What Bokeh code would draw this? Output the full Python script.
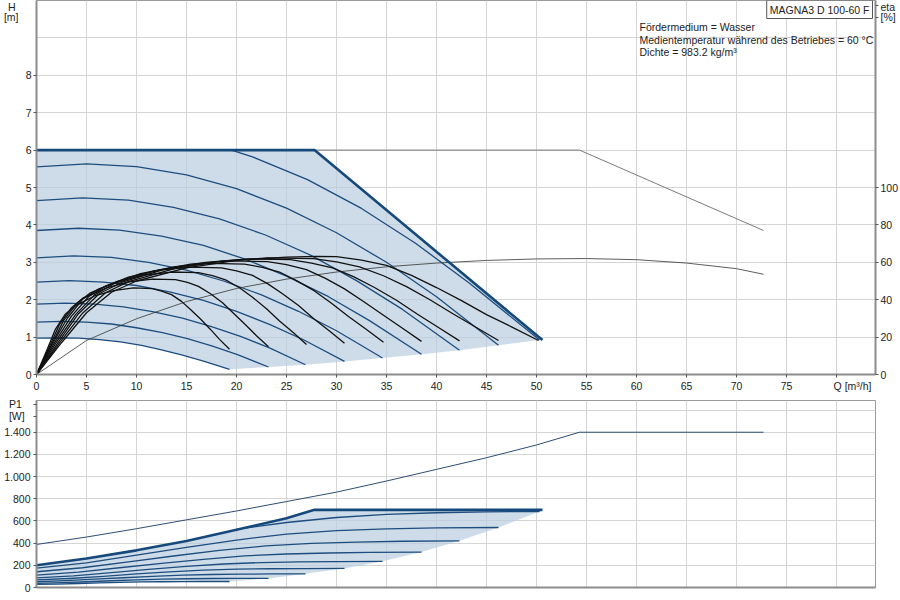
from bokeh.plotting import figure
from bokeh.models import Range1d, LinearAxis, FixedTicker, Label
from bokeh.layouts import column
from bokeh.embed import file_html
from bokeh.resources import INLINE

# ─── data ───────────────────────────────────────────────────────────────────
Q_TICKS   = [0, 5, 10, 15, 20, 25, 30, 35, 40, 45, 50, 55, 60, 65, 70, 75, 80]
H_TICKS   = [0, 1, 2, 3, 4, 5, 6, 7, 8]
H_GRID    = [0, 1, 2, 3, 4, 5, 6, 7, 8, 9]
ETA_TICKS = [0, 20, 40, 60, 80, 100]
P_TICKS   = [0, 200, 400, 600, 800, 1000, 1200, 1400]
P_GRID    = [0, 200, 400, 600, 800, 1000, 1200, 1400, 1600]
P_LABELS  = {1000: "1.000", 1200: "1.200", 1400: "1.400"}

# constant-speed curves, slowest first; Q list shared by H and P1
speed_q = [
    [0, 2.1, 4.2, 6.3, 8.4, 10.5, 12.5, 14.6, 16.7, 19.3],
    [0, 2.5, 5.0, 7.5, 10.0, 12.6, 15.1, 17.6, 20.1, 23.2],
    [0, 2.9, 5.8, 8.7, 11.6, 14.6, 17.5, 20.4, 23.3, 26.9],
    [0, 3.3, 6.7, 10.0, 13.3, 16.7, 20.0, 23.3, 26.7, 30.8],
    [0, 3.7, 7.5, 11.2, 15.0, 18.7, 22.5, 26.2, 30.0, 34.6],
    [0, 4.2, 8.3, 12.5, 16.7, 20.8, 25.0, 29.2, 33.3, 38.5],
    [0, 4.6, 9.2, 13.7, 18.3, 22.9, 27.5, 32.0, 36.6, 42.3],
    [0, 5.0, 10.0, 15.0, 20.0, 25.0, 30.0, 35.0, 40.0, 46.2],
]
speed_h = [
    [0.97, 0.98, 0.97, 0.93, 0.87, 0.78, 0.66, 0.52, 0.36, 0.14],
    [1.40, 1.42, 1.40, 1.35, 1.25, 1.12, 0.96, 0.76, 0.53, 0.20],
    [1.88, 1.91, 1.88, 1.81, 1.68, 1.51, 1.28, 1.02, 0.71, 0.26],
    [2.47, 2.51, 2.47, 2.38, 2.21, 1.98, 1.69, 1.34, 0.93, 0.35],
    [3.12, 3.17, 3.13, 3.00, 2.79, 2.50, 2.13, 1.69, 1.17, 0.44],
    [3.85, 3.91, 3.86, 3.70, 3.45, 3.09, 2.63, 2.08, 1.44, 0.54],
    [4.65, 4.72, 4.66, 4.47, 4.16, 3.73, 3.18, 2.51, 1.74, 0.65],
    [5.55, 5.63, 5.56, 5.34, 4.97, 4.45, 3.79, 3.00, 2.08, 0.78],
]
speed_p = [
    [28, 31, 36, 41, 46, 50, 52, 53, 54, 54],
    [38, 44, 52, 61, 69, 75, 79, 81, 82, 82],
    [52, 62, 75, 88, 101, 111, 117, 120, 122, 123],
    [68, 81, 101, 122, 140, 156, 165, 169, 171, 172],
    [86, 105, 134, 163, 190, 212, 225, 231, 234, 236],
    [111, 138, 178, 217, 254, 285, 302, 311, 316, 319],
    [142, 178, 231, 284, 334, 375, 398, 410, 417, 421],
    [174, 222, 292, 362, 428, 482, 512, 528, 537, 541],
]

# 100 % speed curve (clipped by the 6 m limit)
top_q   = [19.5, 21.6, 27.1, 32.5, 37.9, 43.3, 50.3]
top_h   = [6.0, 5.82, 5.21, 4.44, 3.51, 2.44, 0.92]
top_p_q = [20, 25, 30, 35, 40, 45, 50.3]
top_p   = [525, 586, 631, 660, 674, 682, 685]

# max limit curves (thick)
max_h_q = [0, 27.8, 50.6]
max_h   = [6.0, 6.0, 0.92]
max_p_q = [0, 5, 10, 15, 20, 25, 27.8, 50.6]
max_p   = [200, 262, 335, 420, 520, 625, 700, 700]

# thin extension curves
ext_h_q   = [27.8, 54.3, 72.7]
ext_h     = [6.0, 6.0, 3.85]
ext_eta_q = [0, 5, 10, 15, 20, 25, 30, 35, 40, 45, 50, 55, 60, 65, 70, 72.7]
ext_eta   = [0, 18.2, 29.8, 39.0, 46.0, 51.0, 54.8, 57.6, 59.6, 61.0, 61.8, 62.0, 61.4, 59.6, 56.6, 53.6]
ext_p_q   = [0, 5, 10, 15, 20, 25, 30, 35, 40, 45, 50, 54.3, 72.7]
ext_p     = [388, 455, 530, 610, 690, 775, 860, 960, 1065, 1170, 1285, 1400, 1400]

# efficiency curves, one per speed (slowest first)
eta_q = [
    [0, 1.0, 1.9, 2.9, 3.9, 5.8, 7.7, 9.7, 11.6, 12.5, 13.5, 14.5, 15.4, 16.4, 17.4, 18.3, 19.3],
    [0, 1.2, 2.3, 3.5, 4.6, 7.0, 9.3, 11.6, 13.9, 15.1, 16.2, 17.4, 18.6, 19.7, 20.9, 22.0, 23.2],
    [0, 1.4, 2.7, 4.1, 5.4, 8.1, 10.8, 13.5, 16.2, 17.6, 18.9, 20.3, 21.6, 23.0, 24.3, 25.7, 27.0],
    [0, 1.5, 3.1, 4.6, 6.2, 9.2, 12.3, 15.4, 18.5, 20.0, 21.6, 23.1, 24.6, 26.2, 27.7, 29.3, 30.8],
    [0, 1.7, 3.5, 5.2, 6.9, 10.4, 13.9, 17.4, 20.8, 22.6, 24.3, 26.0, 27.8, 29.5, 31.2, 33.0, 34.7],
    [0, 1.9, 3.9, 5.8, 7.7, 11.6, 15.4, 19.3, 23.1, 25.0, 27.0, 28.9, 30.8, 32.7, 34.7, 36.6, 38.5],
    [0, 2.1, 4.2, 6.3, 8.5, 12.7, 16.9, 21.2, 25.4, 27.5, 29.6, 31.7, 33.8, 36.0, 38.1, 40.2, 42.3],
    [0, 2.3, 4.6, 6.9, 9.2, 13.9, 18.5, 23.1, 27.7, 30.0, 32.3, 34.7, 37.0, 39.3, 41.6, 43.9, 46.2],
    [0, 2.5, 5.0, 7.5, 10.0, 15.0, 20.0, 25.0, 28.0, 30.0, 32.5, 35.0, 37.5, 40.0, 42.5, 45.0, 47.5, 50.2],
]
eta_v = [
    [0, 12.5, 24.3, 32.4, 36.8, 42.0, 44.9, 46.3, 45.9, 44.6, 42.7, 39.1, 34.8, 29.7, 24.1, 18.8, 13.5],
    [0, 13.8, 26.8, 35.7, 40.7, 46.3, 49.6, 51.0, 50.7, 49.3, 47.1, 43.2, 38.4, 32.8, 26.6, 20.7, 14.8],
    [0, 14.9, 28.8, 38.4, 43.7, 49.8, 53.2, 54.8, 54.5, 52.9, 50.6, 46.4, 41.3, 35.2, 28.6, 22.3, 16.0],
    [0, 15.6, 30.2, 40.2, 45.7, 52.1, 55.8, 57.4, 57.0, 55.4, 53.0, 48.6, 43.2, 36.9, 30.0, 23.3, 16.7],
    [0, 16.1, 31.2, 41.6, 47.3, 53.9, 57.7, 59.4, 59.0, 57.3, 54.8, 50.2, 44.7, 38.1, 31.0, 24.1, 17.3],
    [0, 16.5, 32.0, 42.6, 48.4, 55.2, 59.0, 60.8, 60.4, 58.7, 56.1, 51.4, 45.8, 39.0, 31.7, 24.7, 17.7],
    [0, 16.7, 32.5, 43.3, 49.2, 56.1, 60.0, 61.8, 61.4, 59.6, 57.0, 52.3, 46.5, 39.7, 32.2, 25.1, 18.0],
    [0, 16.9, 32.8, 43.7, 49.7, 56.7, 60.6, 62.4, 62.0, 60.2, 57.6, 52.8, 47.0, 40.1, 32.6, 25.4, 18.2],
    [0, 17.0, 33.0, 44.0, 50.0, 57.0, 61.0, 62.8, 63.2, 63.0, 61.2, 58.3, 53.0, 46.5, 39.5, 32.0, 25.5, 18.2],
]

INFO_LINES = ["Fördermedium = Wasser",
              "Medientemperatur während des Betriebes = 60 °C",
              "Dichte = 983.2 kg/m³"]

# ─── style ──────────────────────────────────────────────────────────────────
FONT  = "Liberation Sans"
FS    = "10.5px"
TXT   = "#222222"
GRID  = "#d5d5d5"
AXIS  = "#8c8c8c"
BLUE  = "#1d4d7e"
THICK = "#16497b"
FILL  = "#b9cde0"
NB    = "\u00a0"   # non-breaking space, used to nudge axis-side captions


def style_axis(ax):
    ax.axis_line_color = AXIS
    ax.axis_line_width = 2
    ax.major_tick_line_color = "#555555"
    ax.major_tick_out = 3
    ax.major_tick_in = 0
    ax.minor_tick_line_color = None
    ax.major_label_text_font = FONT
    ax.major_label_text_font_size = FS
    ax.major_label_text_color = TXT
    ax.major_label_standoff = 2


def base_fig(y_range, h, top_border, bottom_border):
    p = figure(frame_width=839, frame_height=h, x_range=Range1d(0, 83.9), y_range=y_range,
               min_border_left=35, min_border_right=25,
               min_border_top=top_border, min_border_bottom=bottom_border,
               output_backend="svg", toolbar_location=None, title=None)
    p.outline_line_color = "#9a9a9a"
    p.grid.grid_line_color = GRID
    p.xgrid.ticker = FixedTicker(ticks=Q_TICKS)
    style_axis(p.xaxis[0])
    style_axis(p.yaxis[0])
    return p


# ─── H / eta chart ──────────────────────────────────────────────────────────
top = base_fig(Range1d(0, 10), 374, 0, 19)
top.extra_y_ranges = {"eta": Range1d(0, 200)}
top.xaxis.ticker = FixedTicker(ticks=Q_TICKS)
top.xaxis.major_label_overrides = {80: NB * 11 + "Q [m³/h]"}
top.yaxis.ticker = FixedTicker(ticks=H_TICKS)
top.ygrid.ticker = FixedTicker(ticks=H_GRID)

# caption "H [m]" as a tick-less axis left of the H axis
h_cap = LinearAxis(ticker=FixedTicker(ticks=[9.87, 9.55]),
                   major_label_overrides={9.87: "H" + NB, 9.55: "[m]"})
style_axis(h_cap)
h_cap.axis_line_color = None
h_cap.major_tick_line_color = None
h_cap.major_tick_out = 0
h_cap.major_label_standoff = 4
top.add_layout(h_cap, "left")

eta_axis = LinearAxis(y_range_name="eta", ticker=FixedTicker(ticks=ETA_TICKS + [191, 197.4]),
                      major_label_overrides={191: "[%]", 197.4: "eta"})
style_axis(eta_axis)
top.add_layout(eta_axis, "right")

# shaded operating area: max curve, end points of speed curves, slowest curve back
fill_q = max_h_q + [top_q[-1]] + [q[-1] for q in reversed(speed_q)] + list(reversed(speed_q[0]))
fill_h = max_h + [top_h[-1]] + [h[-1] for h in reversed(speed_h)] + list(reversed(speed_h[0]))
top.patch(fill_q, fill_h, fill_color=FILL, fill_alpha=0.7, line_color=None)

for q, h in zip(speed_q, speed_h):
    top.line(q, h, color=BLUE, line_width=1.3, line_join="round")
top.line(top_q, top_h, color=BLUE, line_width=1.3, line_join="round")
top.line(ext_h_q, ext_h, color="#7a7a7a", line_width=1)
top.line(ext_eta_q, ext_eta, y_range_name="eta", color="#333333", line_width=0.8, line_join="round")
for q, v in zip(eta_q, eta_v):
    top.line(q, v, y_range_name="eta", color="#111111", line_width=1.3, line_join="round")
top.line(max_h_q, max_h, color=THICK, line_width=2.6, line_join="round")

for i, line in enumerate(INFO_LINES):
    top.add_layout(Label(x=60.3, y=9.30 - 0.345 * i, text=line, text_baseline="middle",
                         text_font=FONT, text_font_size=FS, text_color=TXT))
top.add_layout(Label(x=83.6, y=10, text="MAGNA3 D 100-60 F", text_align="right",
                     text_baseline="top", text_font=FONT, text_font_size=FS, text_color=TXT,
                     border_line_color="#555555", background_fill_color="white", padding=3))

# ─── P1 chart ───────────────────────────────────────────────────────────────
bot = base_fig(Range1d(0, 1686), 187, 6, 6)
bot.xaxis.ticker = FixedTicker(ticks=[])
bot.yaxis.ticker = FixedTicker(ticks=P_TICKS + [1542, 1650])
bot.ygrid.ticker = FixedTicker(ticks=P_GRID)
bot.yaxis.major_label_overrides = {**P_LABELS, 1542: "[W]" + NB * 2, 1650: "P1" + NB * 3}
bot.yaxis.major_label_standoff = 3

pfill_q = max_p_q + [top_p_q[-1]] + [q[-1] for q in reversed(speed_q)] + list(reversed(speed_q[0]))
pfill_p = max_p + [top_p[-1]] + [p[-1] for p in reversed(speed_p)] + list(reversed(speed_p[0]))
bot.patch(pfill_q, pfill_p, fill_color=FILL, fill_alpha=0.7, line_color=None)

for q, pw in zip(speed_q, speed_p):
    bot.line(q, pw, color=BLUE, line_width=1.3, line_join="round")
bot.line(top_p_q, top_p, color=BLUE, line_width=1.3, line_join="round")
bot.line(ext_p_q, ext_p, color="#2b4d74", line_width=1, line_join="round")
bot.line(max_p_q, max_p, color=THICK, line_width=2.6, line_join="round")

layout = column(top, bot)
open("out.html", "w").write(file_html(layout, INLINE))
